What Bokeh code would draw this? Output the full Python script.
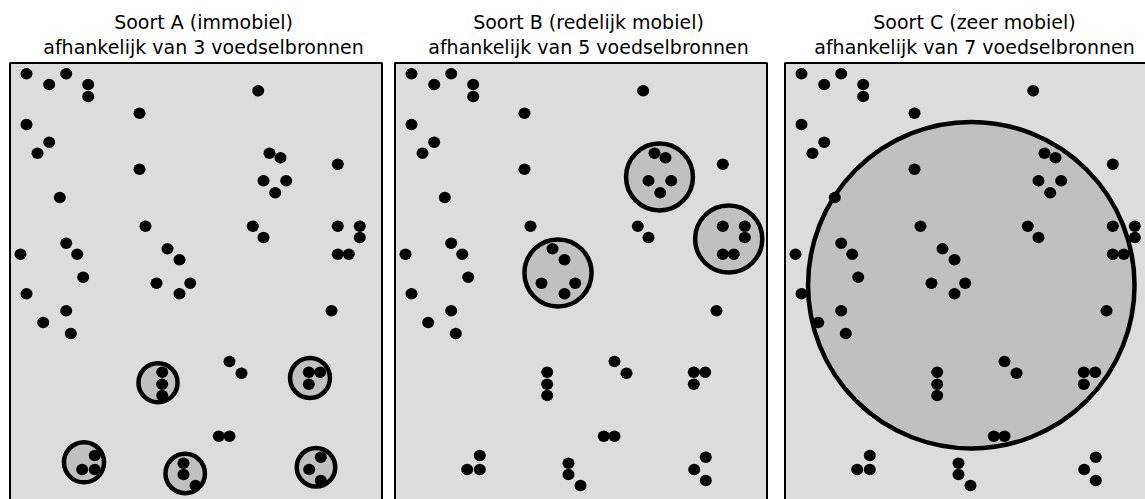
import numpy as np
from bokeh.plotting import figure
from bokeh.models import Range1d
from bokeh.core.properties import value
from bokeh.embed import file_html
from bokeh.resources import INLINE

# ---- data ----
panel_titles_1 = ["Soort A (immobiel)", "Soort B (redelijk mobiel)", "Soort C (zeer mobiel)"]
panel_titles_2 = ["afhankelijk van 3 voedselbronnen",
                  "afhankelijk van 5 voedselbronnen",
                  "afhankelijk van 7 voedselbronnen"]
panel_left = [9, 394, 784]
title_center = [203, 588, 974]

# food sources (same layout in every panel), relative to panel's top-left corner
dot_x = [17, 39.7, 56.7, 78.7, 78.7, 248.7, 130, 17, 39.7, 28, 130, 260, 271, 328.3,
         254, 276.7, 265.7, 50.3, 136, 243.3, 254, 328.3, 350.3, 350.3, 328.3, 339.3,
         56.7, 67.7, 11, 158, 170, 73.7, 147, 180.7, 170, 17, 56.7, 33.7, 61.3, 322,
         220, 232, 152.7, 152.7, 152.7, 299.3, 310.7, 299.3, 209.3, 220, 85.3, 85.3,
         72.7, 174, 174, 186, 311.3, 299.7, 311.3]
dot_y = [11.3, 22, 11.3, 22, 34, 28.3, 50.7, 62, 79.7, 90.7, 106.7, 90.7, 95.3, 101.7,
         118.3, 118.3, 130.3, 135, 163.7, 163.7, 175, 163.7, 163.7, 175, 191.7, 191.7,
         180.7, 191.7, 191.7, 186.3, 197.3, 214.7, 220.7, 220.7, 231.3, 231.3, 248.3,
         260, 271, 248.3, 299, 310.7, 309.7, 321.7, 333, 309.7, 309.7, 321.7, 373.7,
         373.7, 393, 407, 407, 400.7, 412, 423, 394.7, 407, 418]

# home ranges per panel (centre x, centre y, outer radius), relative to panel corner
range_panel = [0, 0, 0, 0, 0, 1, 1, 1, 2]
range_x = [148.5, 300.5, 74.5, 175.7, 306.5, 265, 334.2, 163.5, 186.8]
range_y = [320.2, 315.5, 399.8, 411, 404.8, 114.5, 176.5, 210.5, 222.7]
range_r = [21.8, 22.2, 22.3, 22, 21.5, 35.7, 35.8, 35.8, 165.5]

# ---- layout ----
W, H = 1145, 499
panel_top = 62
panel_w = 372.5
panel_h = 460

p = figure(width=W, height=H, output_backend="svg", toolbar_location=None,
           x_range=Range1d(0, W), y_range=Range1d(H, 0),
           min_border=0, background_fill_color="white", border_fill_color="white")
p.axis.visible = False
p.grid.visible = False
p.outline_line_color = None

lefts = np.array(panel_left, dtype=float)
p.quad(left=lefts + 0.5, right=lefts + panel_w, top=[panel_top + 0.5] * 3,
       bottom=[panel_top + panel_h] * 3, fill_color="#DCDCDC",
       line_color="black", line_width=2)

ring_w = 4.5
cx = np.array(range_x) + lefts[np.array(range_panel)]
cy = np.array(range_y) + panel_top
cr = np.array(range_r) - ring_w / 2
p.circle(x=cx, y=cy, radius=cr, fill_color="#C0C0C0", line_color="black",
         line_width=ring_w)

for k in range(3):
    xs = np.array(dot_x) + lefts[k]
    ys = np.array(dot_y) + panel_top
    p.ellipse(x=xs, y=ys, width=12, height=11.5, fill_color="black", line_color=None)

p.text(x=title_center, y=[21.5] * 3, text=panel_titles_1, text_align="center",
       text_baseline="alphabetic", text_font=value("DejaVu Sans"),
       text_font_size="19px", text_color="black")
p.text(x=title_center, y=[46.5] * 3, text=panel_titles_2, text_align="center",
       text_baseline="alphabetic", text_font=value("DejaVu Sans"),
       text_font_size="19px", text_color="black")

open("out.html", "w").write(file_html(p, INLINE))
